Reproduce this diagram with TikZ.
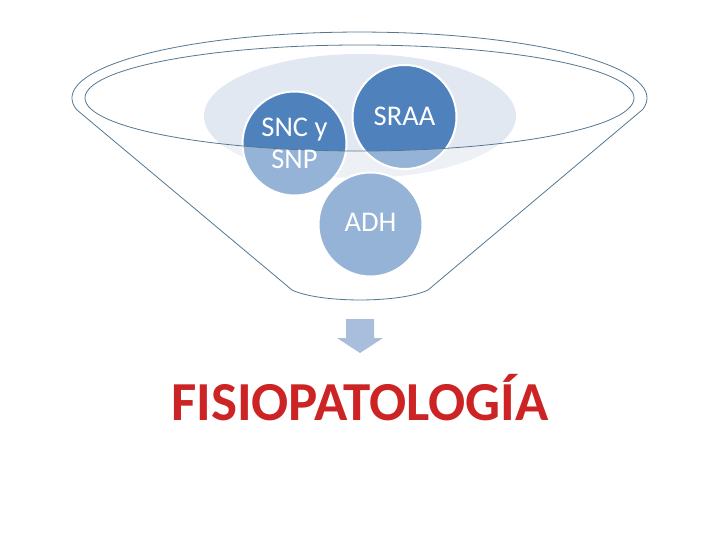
\documentclass[tikz,border=0pt]{standalone}
\usepackage{fontspec}
\setmainfont{Carlito}
\definecolor{darkblue}{HTML}{4F81BD}
\definecolor{haze}{HTML}{E2E8F1}
\definecolor{rimline}{HTML}{557892}
\definecolor{arrowblue}{HTML}{A9BEDC}
\definecolor{titlered}{HTML}{CC2424}
\tikzset{
  bubble/.style={circle, fill=darkblue, draw=white, line width=2pt, minimum size=104pt, inner sep=0pt},
  bubbletext/.style={text=white, align=center, font=\fontsize{28.5}{32}\selectfont},
  rim/.style={draw=rimline, line width=0.8pt},
}
\begin{document}
\begin{tikzpicture}[x=1pt,y=1pt]
\useasboundingbox (0,0) rectangle (720,-540);
% haze ellipse behind
\fill[haze] (360,-116) ellipse[x radius=156, y radius=62];
% bubbles
\node[bubble] (snc) at (294.5,-143.5) {};
\node[bubble] (sraa) at (404.5,-117) {};
\node[bubble] (adh) at (370.5,-224.5) {};
% funnel body (semi-transparent) over lower parts
\fill[white, fill opacity=0.4, even odd rule]
  (76.4,-109.5) arc[start angle=190, end angle=-10, x radius=287.5, y radius=66]
  -- (428,-290) .. controls (400,-303.3) and (320,-303.3) .. (292,-290) -- cycle
  (359.5,-98) ellipse[x radius=274.5, y radius=53];
% funnel outlines
\draw[rim] (76.4,-109.5) arc[start angle=190, end angle=-10, x radius=287.5, y radius=66]
  -- (428,-290) .. controls (400,-303.3) and (320,-303.3) .. (292,-290) -- cycle;
\draw[rim] (359.5,-98) ellipse[x radius=274.5, y radius=53];
% bubble labels
\node[bubbletext] at (snc) {SNC y\\SNP};
\node[bubbletext] at ([yshift=1pt]sraa.center) {SRAA};
\node[bubbletext] at ([yshift=2pt]adh.center) {ADH};
% arrow
\fill[arrowblue] (346,-319) -- (374,-319) -- (374,-338) -- (383,-338) -- (360,-353) -- (337,-338) -- (346,-338) -- cycle;
% title
\node[anchor=base, text=titlered, font=\fontsize{55}{60}\selectfont\bfseries] (title) at (360,-420) {FISIOPATOLOGÍA};
\end{tikzpicture}
\end{document}
